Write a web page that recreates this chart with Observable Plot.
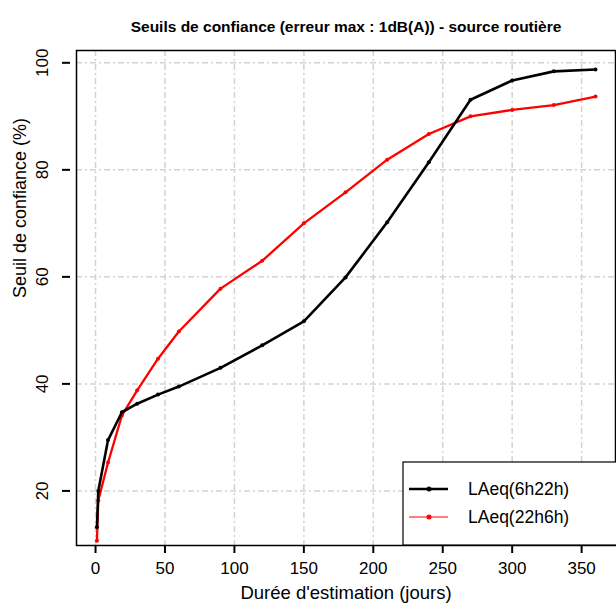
<!DOCTYPE html>
<html><head><meta charset="utf-8">
<script src="https://cdn.jsdelivr.net/npm/d3@7"></script>
<script src="https://cdn.jsdelivr.net/npm/@observablehq/plot@0.6"></script>
<style>body{margin:0;background:#fff} svg{display:block}</style>
</head><body><div id="chart"></div>
<script>
const days = [1, 2, 9, 19, 30, 45, 60, 90, 120, 150, 180, 210, 240, 270, 300, 330, 360];
const day6h22h = [13.2, 20.0, 29.5, 34.7, 36.3, 38.0, 39.5, 43.0, 47.2, 51.7, 59.9, 70.2, 81.4, 93.1, 96.7, 98.4, 98.75];
const night22h6h = [10.7, 18.2, 25.3, 34.1, 38.8, 44.7, 49.8, 57.8, 63.0, 70.0, 75.8, 81.9, 86.7, 90.0, 91.2, 92.1, 93.7];
const seriesNames = ["LAeq(6h22h)", "LAeq(22h6h)"];
const seriesColors = ["#000000", "#ff0000"];
const xTicks = [0, 50, 100, 150, 200, 250, 300, 350];
const yTicks = [20, 40, 60, 80, 100];
const title = "Seuils de confiance (erreur max : 1dB(A)) - source routière";
const xLabel = "Durée d'estimation (jours)";
const yLabel = "Seuil de confiance (%)";

const dayRows = days.map((d, i) => ({day: d, value: day6h22h[i], series: seriesNames[0]}));
const nightRows = days.map((d, i) => ({day: d, value: night22h6h[i], series: seriesNames[1]}));

const font = "'Liberation Sans', Arial, sans-serif";
const gridStyle = {stroke: "#d3d3d3", strokeOpacity: 1, strokeWidth: 1.5, strokeDasharray: "6,3,2,3"};

const plot = Plot.plot({
  width: 616, height: 608,
  marginLeft: 76, marginRight: 1, marginTop: 50, marginBottom: 63,
  style: {fontFamily: font, background: "white", color: "black"},
  x: {domain: [-13.7, 374.4]},
  y: {domain: [9.8, 102.3]},
  marks: [
    Plot.gridX(xTicks, gridStyle),
    Plot.gridY(yTicks, gridStyle),
    Plot.line(nightRows, {x: "day", y: "value", stroke: seriesColors[1], strokeWidth: 2.3}),
    Plot.dot(nightRows, {x: "day", y: "value", fill: seriesColors[1], r: 2}),
    Plot.line(dayRows, {x: "day", y: "value", stroke: seriesColors[0], strokeWidth: 2.6}),
    Plot.dot(dayRows, {x: "day", y: "value", fill: seriesColors[0], r: 2}),
    Plot.frame({stroke: "black", strokeWidth: 1.5}),
    Plot.axisX(xTicks, {tickSize: 8, tickPadding: 8, fontSize: 17, strokeWidth: 2, label: null}),
    Plot.axisY(yTicks, {tickSize: 8, tickPadding: 15, fontSize: 17, strokeWidth: 2, tickRotate: -90, dx: -6, label: null}),
    Plot.text([xLabel], {frameAnchor: "bottom", dy: 53, fontSize: 18.5, text: d => d}),
    Plot.text([yLabel], {frameAnchor: "left", dx: -56, rotate: -90, fontSize: 18, text: d => d}),
    Plot.text([title], {frameAnchor: "top", dy: -30, fontSize: 15.5, fontWeight: "bold", text: d => d})
  ]
});

// legend box (bottom-right, as in the original)
const svg = d3.select(plot);
const lg = svg.append("g").attr("font-family", font).attr("text-anchor", "start");
lg.append("rect").attr("x", 403).attr("y", 462).attr("width", 220).attr("height", 83)
  .attr("fill", "white").attr("stroke", "black").attr("stroke-width", 1.2);
const entries = [
  {name: seriesNames[0], color: seriesColors[0], w: 2.5, y: 489},
  {name: seriesNames[1], color: seriesColors[1], w: 1.2, y: 517}
];
for (const e of entries) {
  lg.append("line").attr("x1", 409).attr("x2", 448).attr("y1", e.y).attr("y2", e.y)
    .attr("stroke", e.color).attr("stroke-width", e.w);
  lg.append("circle").attr("cx", 429).attr("cy", e.y).attr("r", 2.5).attr("fill", e.color);
  lg.append("text").attr("x", 468).attr("y", e.y).attr("dy", "0.35em").attr("font-size", 17.5)
    .attr("text-anchor", "start").attr("fill", "black").text(e.name);
}
document.getElementById("chart").appendChild(plot);
</script>
</body></html>
